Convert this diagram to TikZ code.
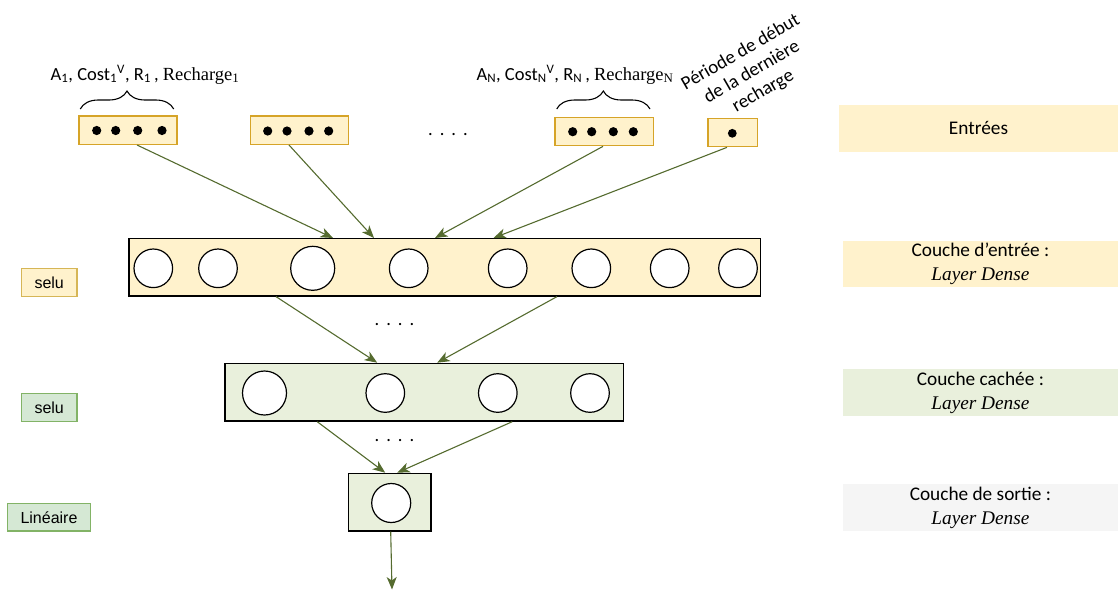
\documentclass[tikz,border=0pt]{standalone}
\usepackage{fontspec}
\setmainfont{Carlito}
\newfontfamily\timesfont{Liberation Serif}
\newfontfamily\arialfont{Liberation Sans}
\usepackage{tikz}
\usetikzlibrary{positioning,arrows.meta,decorations.pathreplacing}

\definecolor{jaunefond}{HTML}{FFF2CC}
\definecolor{jaunebord}{HTML}{D6A428}
\definecolor{selubord}{HTML}{D6B656}
\definecolor{vertfond}{HTML}{E9F0DC}
\definecolor{vertclair}{HTML}{D5E8D4}
\definecolor{vertbord}{HTML}{82B366}
\definecolor{grisfond}{HTML}{F5F5F5}
\definecolor{fleche}{HTML}{556B2F}

\tikzset{
  entree/.style={draw=jaunebord,fill=jaunefond,line width=1.3pt,inner sep=0pt},
  couche/.style={draw=black,line width=1.3pt,inner sep=0pt},
  neurone/.style={circle,draw=black,fill=white,line width=1.2pt,inner sep=0pt},
  activ/.style={line width=1.3pt,inner sep=0pt,font=\arialfont\fontsize{16}{18}\selectfont},
  etiq/.style={inner sep=0pt,align=center,minimum width=275.3pt,minimum height=46.5pt,
    font=\fontsize{19.3}{24}\selectfont},
  flux/.style={-{Stealth[length=12.5pt,width=10pt,inset=3.5pt]},draw=fleche,line width=1.1pt},
  points/.style={anchor=base,inner sep=0pt}
}
\newcommand{\pts}{.\hspace{7pt}.\hspace{7pt}.\hspace{7pt}.}

\begin{document}
\begin{tikzpicture}[x=1pt,y=-1pt,font=\fontsize{18.5}{22}\selectfont]
  \useasboundingbox (0,0) rectangle (1118,590);

  % entrees
  \node[entree,minimum width=98pt,minimum height=28.3pt] (in1) at (128,130.2) {};
  \node[entree,minimum width=98.4pt,minimum height=28.3pt] (in2) at (299.5,130.2) {};
  \node[entree,minimum width=98.3pt,minimum height=28.4pt] (in3) at (604.2,131.5) {};
  \node[entree,minimum width=49.7pt,minimum height=28pt] (in4) at (732.8,132.7) {};
  \foreach \px in {96.7,115.7,137.7,162} \fill (\px,130.5) circle (4.6);
  \foreach \px in {267.7,287,309,328.7} \fill (\px,131) circle (4.6);
  \foreach \px in {572.7,591.7,613.3,633.3} \fill (\px,131.7) circle (4.6);
  \fill (732.3,133.3) circle (4.4);
  \node[points] (pts0) at (448,135.5) {\pts};

  \draw[decorate,decoration={brace,amplitude=18pt},line width=1.1pt] (80.3,109) -- (173.7,109);
  \draw[decorate,decoration={brace,amplitude=18pt},line width=1.1pt] (556.7,109) -- (650,109);
  \node[anchor=base] (lab1) at (145,80)
    {A\textsubscript{1}, Cost\textsubscript{1}\textsuperscript{V}, R\textsubscript{1}\,, {\timesfont Recharge\textsubscript{1}}};
  \node[anchor=base] (labN) at (575,80)
    {A\textsubscript{N}, Cost\textsubscript{N}\textsuperscript{V}, R\textsubscript{N}\,, {\timesfont Recharge\textsubscript{N}}};
  \node[rotate=30,align=center,inner sep=0pt,font=\fontsize{19}{22.5}\selectfont] (periode) at (752,72)
    {Période de début\\de la dernière\\recharge};

  % couche d'entree
  \node[couche,fill=jaunefond,minimum width=631.3pt,minimum height=57.3pt] (cin) at (444.5,267.3) {};
  \foreach \cx/\d in {153.3/38.6,218/38.6,312.7/44,408.7/38.6,507.7/38.6,591.3/38.6,669.7/38.6,738/38.6}
    \node[neurone,minimum size=\d pt] at (\cx,268.3) {};
  \node[points] (pts1) at (394.5,325.5) {\pts};

  % couche cachee
  \node[couche,fill=vertfond,minimum width=398.3pt,minimum height=57.7pt] (cach) at (424.2,392.2) {};
  \foreach \cx/\d in {264.5/44,385.3/38.6,497.8/38.6,590/38.6}
    \node[neurone,minimum size=\d pt] at (\cx,393) {};
  \node[points] (pts2) at (394.5,441) {\pts};

  % couche de sortie
  \node[couche,fill=vertfond,minimum width=82.7pt,minimum height=57.7pt] (sortie) at (389.7,502.2) {};
  \node[neurone,minimum size=39pt] (nout) at (391.2,503) {};
  \coordinate (fin) at (392,589.5);

  % connexions
  \draw[flux] ([xshift=9pt]in1.south) -- ([xshift=-111.5pt]cin.north);
  \draw[flux] ([xshift=-10.5pt]in2.south) -- ([xshift=-70.5pt]cin.north);
  \draw[flux] ([xshift=-1.2pt]in3.south) -- ([xshift=-9.5pt]cin.north);
  \draw[flux] ([xshift=-5.8pt]in4.south) -- ([xshift=49pt]cin.north);
  \draw[flux] ([xshift=-168.5pt]cin.south) -- ([xshift=-47pt]cach.north);
  \draw[flux] ([xshift=112.5pt]cin.south) -- ([xshift=13pt]cach.north);
  \draw[flux] ([xshift=-107pt]cach.south) -- ([xshift=-4.5pt]sortie.north);
  \draw[flux] ([xshift=88pt]cach.south) -- ([xshift=7.5pt]sortie.north);
  \draw[flux] ([xshift=1pt]sortie.south) -- (fin);

  % activations
  \node[activ,draw=selubord,fill=jaunefond,minimum width=55.7pt,minimum height=28.4pt] (act1) at (49.2,282.5) {selu};
  \node[activ,draw=vertbord,fill=vertclair,minimum width=55.7pt,minimum height=28.4pt] (act2) at (49.2,407.5) {selu};
  \node[activ,draw=vertbord,fill=vertclair,minimum width=83.4pt,minimum height=27.7pt] (act3) at (49,517.2) {Linéaire};

  % etiquettes
  \node[etiq,fill=jaunefond,minimum width=279pt,minimum height=46.7pt] (lentrees) at (978.5,128.3) {Entrées};
  \node[etiq,fill=jaunefond] (lcin) at (980.4,264.2) {Couche d’entrée :\\{\timesfont\itshape Layer Dense}};
  \node[etiq,fill=vertfond] (lcach) at (980.4,392.4) {Couche cachée :\\{\timesfont\itshape Layer Dense}};
  \node[etiq,fill=grisfond] (lsortie) at (980.4,507.4) {Couche de sortie :\\{\timesfont\itshape Layer Dense}};
\end{tikzpicture}
\end{document}
